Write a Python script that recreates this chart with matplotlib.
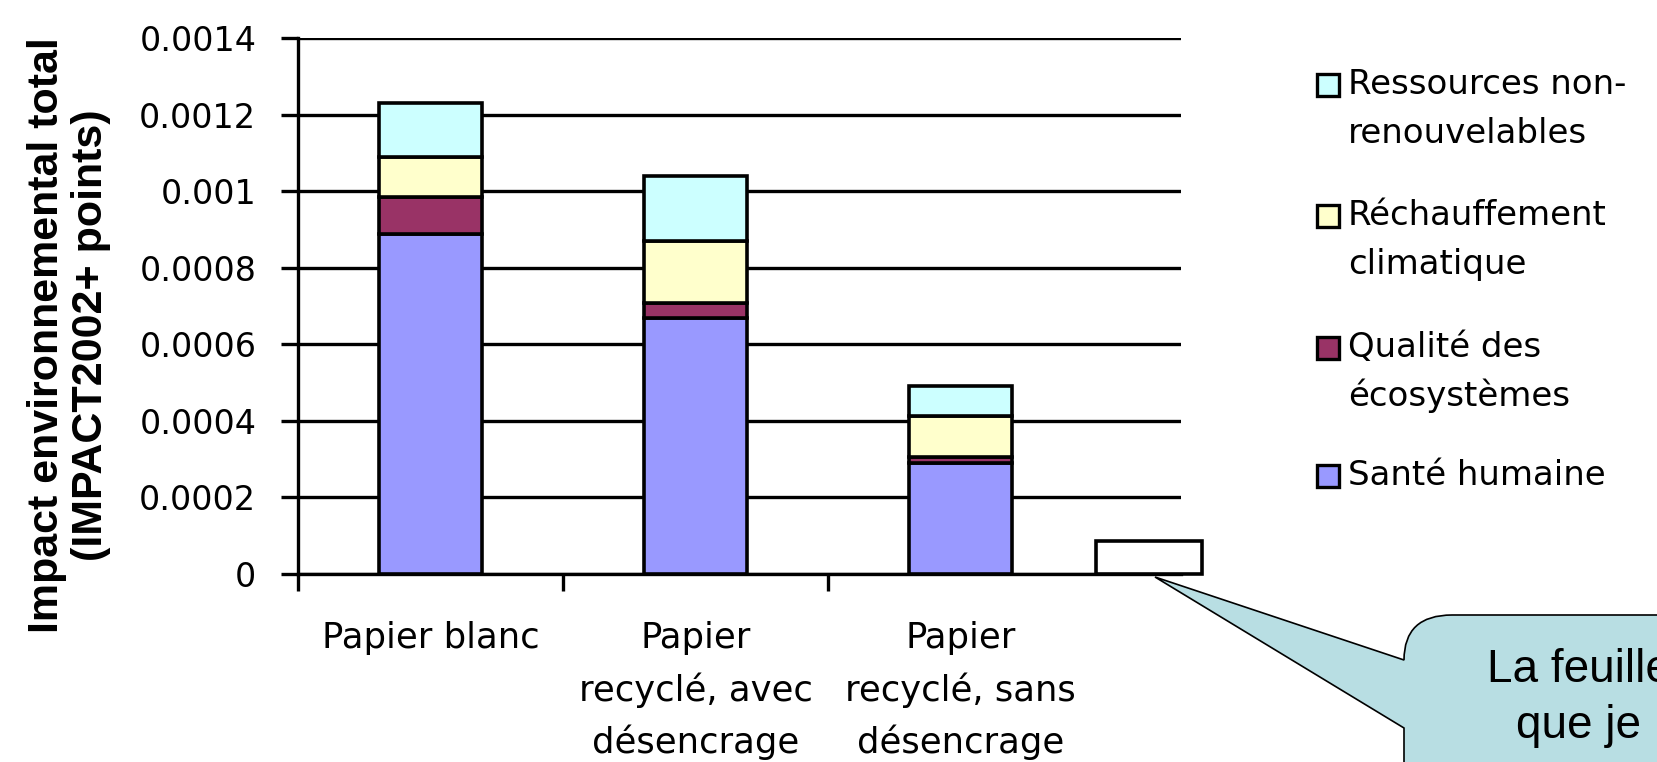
import matplotlib
matplotlib.use("Agg")
import matplotlib.pyplot as plt
from matplotlib.patches import Rectangle, PathPatch
from matplotlib.path import Path
import numpy as np

# values
categories = ["Papier blanc",
              "Papier\nrecyclé, avec\ndésencrage",
              "Papier\nrecyclé, sans\ndésencrage"]
sante_humaine = [0.000889, 0.000669, 0.000290]
qualite_ecosystemes = [0.000097, 0.000039, 0.000016]
rechauffement = [0.000104, 0.000162, 0.000107]
ressources = [0.000141, 0.000170, 0.000078]
feuille = [0.000085]

series = [sante_humaine, qualite_ecosystemes, rechauffement, ressources]
series_labels = [["Santé humaine"],
                 ["Qualité des", "écosystèmes"],
                 ["Réchauffement", "climatique"],
                 ["Ressources non-", "renouvelables"]]
series_colors = ["#9999FF", "#993366", "#FFFFCC", "#CCFFFF"]

yticks = [0, 0.0002, 0.0004, 0.0006, 0.0008, 0.001, 0.0012, 0.0014]
ytick_labels = ["0", "0.0002", "0.0004", "0.0006", "0.0008", "0.001", "0.0012", "0.0014"]

callout_lines = ["La feuille", "que je"]

W, H = 1657, 762
fig = plt.figure(figsize=(W / 100, H / 100), dpi=100)
fig.patch.set_facecolor("white")

ax = fig.add_axes([298 / W, (H - 574) / H, (1181 - 298) / W, (574 - 38) / H])

x = np.arange(1, len(categories) + 1)
bottom = np.zeros(len(categories))
for vals, color in zip(series, series_colors):
    ax.bar(x, vals, 0.39, bottom=bottom, color=color, edgecolor="black",
           linewidth=2.6, zorder=3)
    bottom += np.array(vals)

# the empty box the callout points to
ax.bar([3.71], feuille, 0.40, color="white", edgecolor="black",
       linewidth=2.6, zorder=3, clip_on=False)

ax.set_xlim(0.5, 3.832)
ax.set_ylim(0, 0.0014)
ax.set_yticks(yticks)
ax.set_yticklabels(ytick_labels, fontsize=24)
ax.yaxis.grid(True, color="black", linewidth=2.4)
ax.set_axisbelow(True)

ax.set_xticks([0.5, 1.5, 2.5])
ax.set_xticklabels([])
ax.set_xticks(x, minor=True)
ax.set_xticklabels(categories, minor=True, fontsize=25.5, linespacing=1.6)
ax.tick_params(axis="x", which="minor", length=0, pad=34)
ax.tick_params(axis="x", which="major", length=12, width=2.4)
ax.tick_params(axis="y", length=12, width=2.4, pad=18)

for side in ["top", "right"]:
    ax.spines[side].set_visible(False)
for side in ["left", "bottom"]:
    ax.spines[side].set_linewidth(2.4)

fig.text(69 / W, 1 - 335 / H, "Impact environnemental total\n(IMPACT2002+ points)",
         rotation=90, ha="center", va="center", fontsize=31, fontweight="bold",
         family="Liberation Sans", linespacing=1.15, multialignment="center")

# overlay in pixel coordinates for legend and callout
ov = fig.add_axes([0, 0, 1, 1])
ov.set_xlim(0, W)
ov.set_ylim(H, 0)
ov.axis("off")
ov.patch.set_visible(False)

legend_baselines = [485, 357, 225, 94]
for lines, color, base in zip(series_labels, series_colors, legend_baselines):
    ov.add_patch(Rectangle((1317, base - 20), 22, 22, facecolor=color,
                           edgecolor="black", linewidth=2.4))
    for i, line in enumerate(lines):
        ov.text(1348, base + i * 49, line, va="baseline", ha="left", fontsize=24.5)

verts = [(1155, 577), (1404, 660), (1404, 615), (1452, 615), (1720, 615),
         (1720, 820), (1404, 820), (1404, 728), (1155, 577)]
codes = [Path.MOVETO, Path.LINETO, Path.CURVE3, Path.CURVE3, Path.LINETO,
         Path.LINETO, Path.LINETO, Path.LINETO, Path.CLOSEPOLY]
ov.add_patch(PathPatch(Path(verts, codes), facecolor="#B8DEE3",
                       edgecolor="black", linewidth=1.2))
for i, line in enumerate(callout_lines):
    ov.text(1579, 682 + i * 56, line, ha="center", va="baseline",
            fontsize=33, family="Liberation Sans")

fig.savefig("out.png", dpi=100)
